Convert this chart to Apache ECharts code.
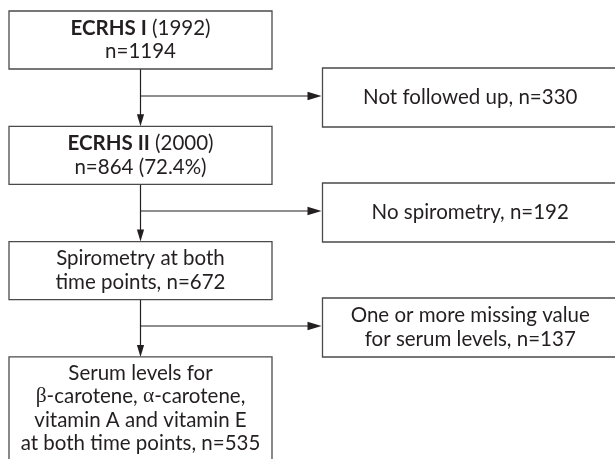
<!DOCTYPE html>
<html lang="en">
<head>
<meta charset="UTF-8">
<title>ECRHS flow chart</title>
<script src="https://cdn.jsdelivr.net/npm/echarts@6/dist/echarts.min.js"></script>
<style>
    html, body { margin: 0; padding: 0; background: #fff; }
    #container { width: 615px; height: 459px; }
</style>
</head>
<body>
<div id="container"></div>
<script type="text/javascript">
    // flow stages (left column) and exclusions (right column)
    const stageLines = [
        ['{b|ECRHS I} (1992)', 'n=1194'],
        ['{b|ECRHS II} (2000)', 'n=864 (72.4%)'],
        ['Spirometry at both', 'time points, n=672'],
        ['Serum levels for', '{g|β}-carotene, {g|α}-carotene,', 'vitamin A and vitamin E', 'at both time points, n=535']
    ];
    const exclusionLines = [
        ['Not followed up, n=330'],
        ['No spirometry, n=192'],
        ['One or more missing value', 'for serum levels, n=137']
    ];

    // layout, in axis units (1 unit = 1 px)
    const MAIN_X = [9, 272];
    const EXCL_X = [322.5, 618];
    const ROW_TOP = 11, ROW_STEP = 115.3;
    const EXCL_TOP = 68, EXCL_STEP = 115;
    const BOX_H = 58, LAST_H = 103, EXCL_H = 59;
    const SPINE_X = 140.5;

    const FONT = 'Lato, "Noto Sans", sans-serif';
    const SIZE = 20.5, LINE_H = 23.5;
    const INK = '#231f20';
    const EDGE = '#4a4a4a';

    const rich = {
        b: { fontFamily: FONT, fontWeight: 'bold', fontSize: SIZE, color: INK, lineHeight: LINE_H },
        g: { fontFamily: '"Liberation Serif", serif', fontSize: SIZE + 1, color: INK, lineHeight: LINE_H }
    };

    function box(api, x0, x1, top, h, lines) {
        const p0 = api.coord([x0, top]);
        const p1 = api.coord([x1, top + h]);
        return [
            {
                type: 'rect',
                shape: { x: p0[0], y: p0[1], width: p1[0] - p0[0], height: p1[1] - p0[1] },
                style: { fill: '#fff', stroke: EDGE, lineWidth: 1.3 }
            },
            {
                type: 'text',
                style: {
                    text: lines.join('\n'),
                    x: (p0[0] + p1[0]) / 2,
                    y: (p0[1] + p1[1]) / 2,
                    align: 'center',
                    verticalAlign: 'middle',
                    fontFamily: FONT,
                    fontSize: SIZE,
                    lineHeight: LINE_H,
                    fill: INK,
                    rich: rich
                }
            }
        ];
    }

    function arrowHead(tip, dir, len, half) {
        // dir: 'down' or 'right'
        if (dir === 'down') {
            return [[tip[0] - half, tip[1] - len], [tip[0] + half, tip[1] - len], tip];
        }
        return [[tip[0] - len, tip[1] - half], [tip[0] - len, tip[1] + half], tip];
    }

    const myChart = echarts.init(document.getElementById('container'), null, { renderer: 'canvas' });

    const option = {
        animation: false,
        grid: { left: 0, right: 0, top: 0, bottom: 0 },
        xAxis: { type: 'value', min: 0, max: 615, show: false },
        yAxis: { type: 'value', min: 0, max: 459, inverse: true, show: false },
        series: [
            {
                // connectors
                type: 'custom',
                coordinateSystem: 'cartesian2d',
                data: exclusionLines.map((d, i) => [i]),
                renderItem: function (params, api) {
                    const i = api.value(0);
                    const top = ROW_TOP + i * ROW_STEP + BOX_H;
                    const nextTop = ROW_TOP + (i + 1) * ROW_STEP;
                    const branchY = EXCL_TOP + i * EXCL_STEP + EXCL_H / 2 - 1.5;
                    const a = api.coord([SPINE_X, top]);
                    const b = api.coord([SPINE_X, nextTop]);
                    const c = api.coord([SPINE_X, branchY]);
                    const d = api.coord([EXCL_X[0] - 1, branchY]);
                    const lineStyle = { stroke: INK, lineWidth: 1.2 };
                    return {
                        type: 'group',
                        children: [
                            { type: 'line', shape: { x1: a[0], y1: a[1], x2: b[0], y2: b[1] - 6 }, style: lineStyle },
                            { type: 'line', shape: { x1: c[0], y1: c[1], x2: d[0] - 6, y2: d[1] }, style: lineStyle },
                            { type: 'polygon', shape: { points: arrowHead(b, 'down', 12, 3.6) }, style: { fill: INK } },
                            { type: 'polygon', shape: { points: arrowHead(d, 'right', 14, 4.2) }, style: { fill: INK } }
                        ]
                    };
                }
            },
            {
                // stage boxes
                type: 'custom',
                coordinateSystem: 'cartesian2d',
                data: stageLines.map((d, i) => [i]),
                renderItem: function (params, api) {
                    const i = api.value(0);
                    const h = i === stageLines.length - 1 ? LAST_H : BOX_H;
                    return {
                        type: 'group',
                        children: box(api, MAIN_X[0], MAIN_X[1], ROW_TOP + i * ROW_STEP, h, stageLines[i])
                    };
                }
            },
            {
                // exclusion boxes
                type: 'custom',
                coordinateSystem: 'cartesian2d',
                data: exclusionLines.map((d, i) => [i]),
                renderItem: function (params, api) {
                    const i = api.value(0);
                    return {
                        type: 'group',
                        children: box(api, EXCL_X[0], EXCL_X[1], EXCL_TOP + i * EXCL_STEP, EXCL_H, exclusionLines[i])
                    };
                }
            }
        ]
    };

    myChart.setOption(option);
    window.addEventListener('resize', myChart.resize);
</script>
</body>
</html>
